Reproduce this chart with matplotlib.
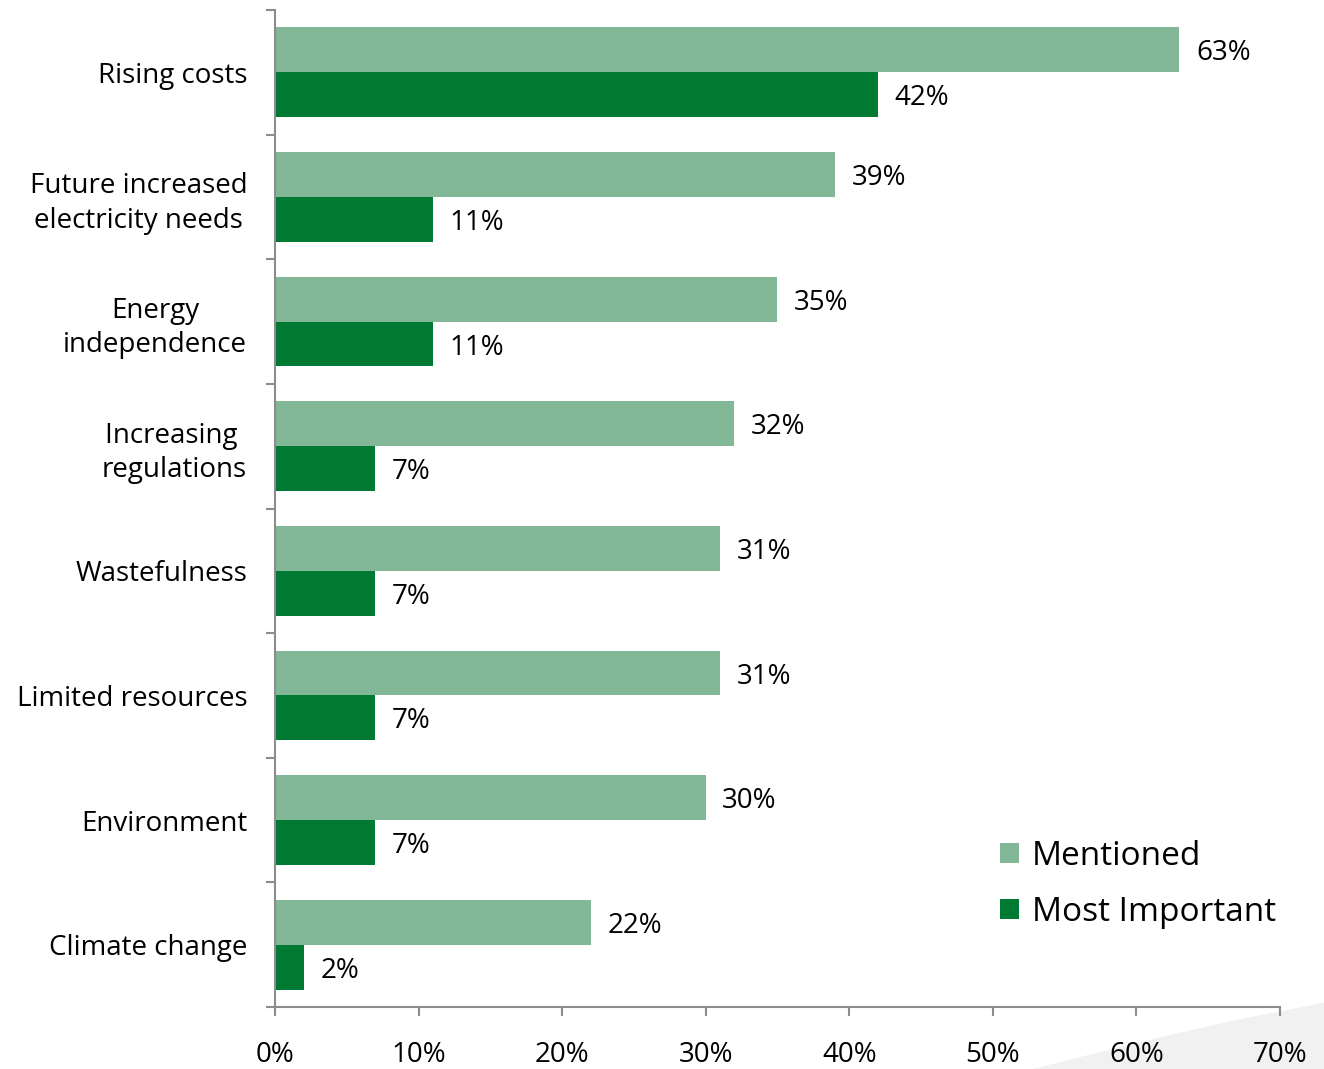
import matplotlib

matplotlib.use("Agg")
import matplotlib.pyplot as plt
import numpy as np
from matplotlib.patches import Polygon
from matplotlib.ticker import FixedLocator, PercentFormatter

categories = [
    "Rising costs",
    "Future increased\nelectricity needs",
    "Energy\nindependence",
    "Increasing \nregulations",
    "Wastefulness",
    "Limited resources",
    "Environment",
    "Climate change",
]
mentioned = [63, 39, 35, 32, 31, 31, 30, 22]
most_important = [42, 11, 11, 7, 7, 7, 7, 2]

LIGHT, DARK, AXIS = "#82b797", "#007a33", "#8c8c8c"

plt.rcParams["font.family"] = ["Open Sans", "DejaVu Sans"]

fig = plt.figure(figsize=(13.24, 10.69), dpi=100)

# faint grey swoosh in the lower right corner of the slide background
fig.patches.append(Polygon(
    [(0.78, 0.0), (0.86, 0.025), (0.93, 0.045), (1.0, 0.062), (1.0, 0.0)],
    closed=True, transform=fig.transFigure, facecolor="#f1f1f1",
    edgecolor="none", zorder=-5))

ax = fig.add_axes([0.2077, 0.058, 0.759, 0.9326])
ax.patch.set_alpha(0)

y = np.arange(len(categories))
h = 0.36
ax.barh(y - h / 2, mentioned, height=h, color=LIGHT, label="Mentioned")
ax.barh(y + h / 2, most_important, height=h, color=DARK, label="Most Important")

for yi, v in zip(y, mentioned):
    ax.text(v + 1.15, yi - h / 2, f"{v}%", va="center_baseline", ha="left", fontsize=20)
for yi, v in zip(y, most_important):
    ax.text(v + 1.15, yi + h / 2, f"{v}%", va="center_baseline", ha="left", fontsize=20)

ax.set_xlim(0, 70)
ax.set_ylim(len(categories) - 0.5, -0.5)
ax.xaxis.set_major_locator(FixedLocator(np.arange(0, 71, 10)))
ax.xaxis.set_major_formatter(PercentFormatter(decimals=0))

ax.set_yticks(y)
ax.set_yticklabels(categories, ha="right", multialignment="center", linespacing=1.3)
ax.yaxis.set_minor_locator(FixedLocator(np.arange(-0.5, len(categories), 1)))
ax.tick_params(axis="y", which="major", length=0, pad=20, labelsize=20)
ax.tick_params(axis="y", which="minor", length=6.5, width=1.5, color=AXIS)
ax.tick_params(axis="x", length=6.5, width=1.5, color=AXIS, labelsize=20, pad=18)

for side in ("top", "right"):
    ax.spines[side].set_visible(False)
for side in ("left", "bottom"):
    ax.spines[side].set_color(AXIS)
    ax.spines[side].set_linewidth(1.5)

ax.legend(
    loc="lower right",
    bbox_to_anchor=(1.026, 0.048),
    frameon=False,
    fontsize=24,
    handlelength=0.55,
    handleheight=0.55,
    handletextpad=0.4,
    labelspacing=0.7,
)

fig.savefig("out.png", dpi=100, facecolor="white")
